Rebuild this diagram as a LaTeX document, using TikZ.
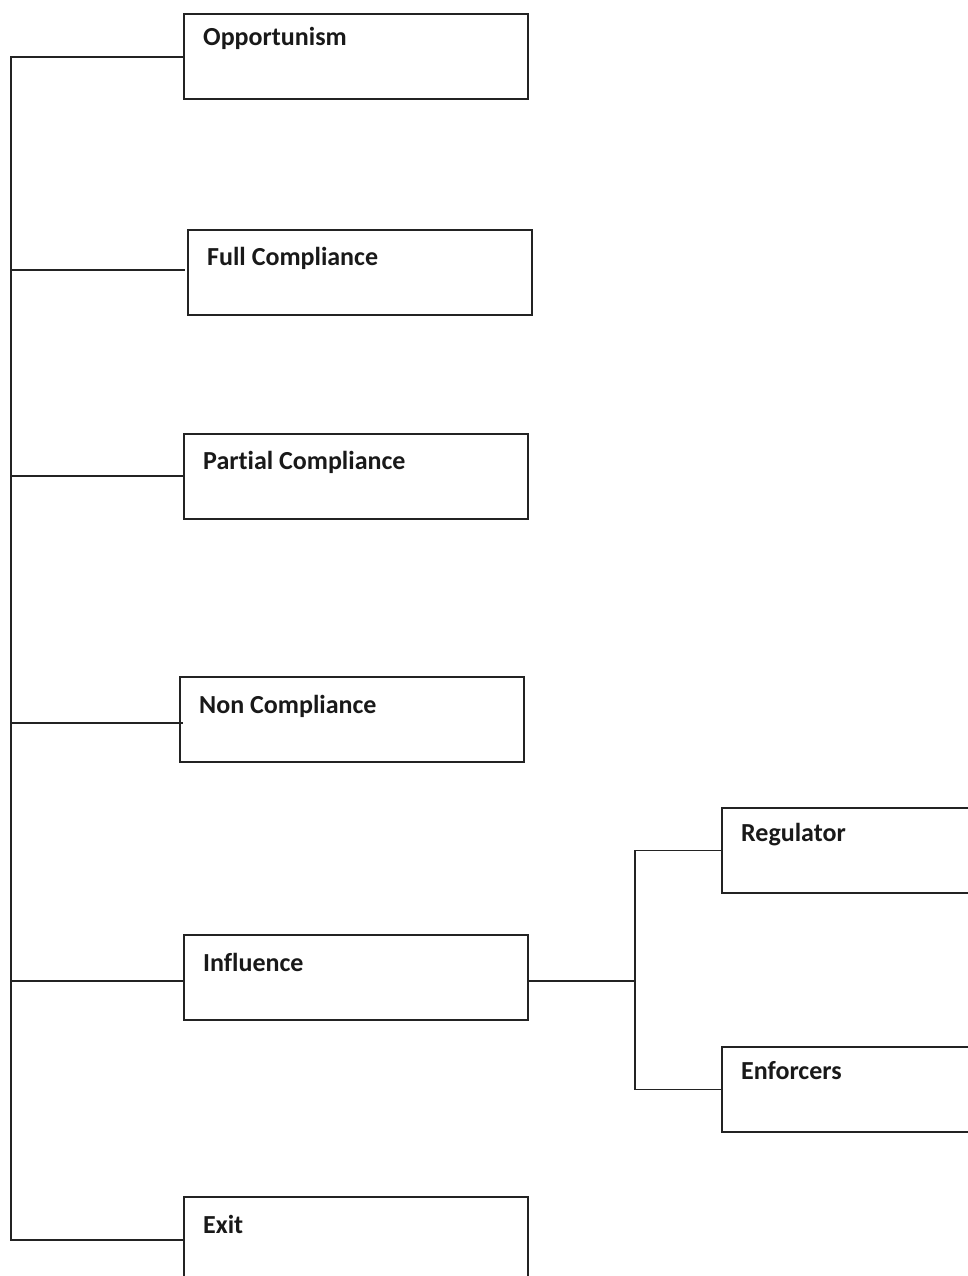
\documentclass[tikz,border=0pt]{standalone}
\usepackage{fontspec}
\setmainfont[Ligatures=NoCommon]{Carlito}
\usetikzlibrary{calc}
\begin{document}
\begin{tikzpicture}[x=1pt,y=-1pt,
  ln/.style={draw={rgb,255:red,35;green,35;blue,35},line width=1.8pt},
  box/.style={ln,rectangle,minimum width=344pt,minimum height=85pt,anchor=north west,inner sep=0pt},
  lbl/.style={anchor=base west,inner sep=0pt,font=\fontsize{26}{30}\selectfont\bfseries,text={rgb,255:red,25;green,25;blue,25}}]
\useasboundingbox[fill=white] (0,0) rectangle (968,1276);
% boxes
\node[box] (opp) at (183,13) {};
\node[box] (full) at (187,229) {};
\node[box] (part) at (183,433) {};
\node[box] (non) at (179,676) {};
\node[box] (inf) at (183,934) {};
\node[box] (exit) at (183,1196) {};
\node[box] (reg) at (721,807) {};
\node[box] (enf) at (721,1046) {};
% labels
\node[lbl] (oppt) at (203,46) {Opportunism};
\node[lbl] (fullt) at (207,265) {Full Compliance};
\node[lbl] (partt) at (203,469) {Partial Compliance};
\node[lbl] (nont) at (199,713) {Non Compliance};
\node[lbl] (inft) at (203,971) {Influence};
\node[lbl] (exitt) at (203,1233) {Exit};
\node[lbl] (regt) at (741,841) {Regulator};
\node[lbl] (enft) at (741,1079) {Enforcers};
% trunk junction points
\coordinate (ttop) at (11,57);
\coordinate (tfull) at (11,270);
\coordinate (tpart) at (11,476);
\coordinate (tnon) at (11,723);
\coordinate (tinf) at (11,981);
\coordinate (tbot) at (11,1240);
\draw[ln] (opp.west |- ttop) -- (ttop) -- (tbot) -- (exit.west |- tbot);
\draw[ln] (tfull) -- ([xshift=-2pt]full.west |- tfull);
\draw[ln] (tpart) -- (part.west |- tpart);
\draw[ln] (tnon) -- ([xshift=4pt]non.west |- tnon);
\draw[ln] (tinf) -- (inf.west |- tinf);
% influence branch
\coordinate (bx) at (635,981);
\draw[ln] (inf.east |- bx) -- (bx);
\draw[ln] (reg.west) -| (bx) |- (enf.west);
\end{tikzpicture}
\end{document}
